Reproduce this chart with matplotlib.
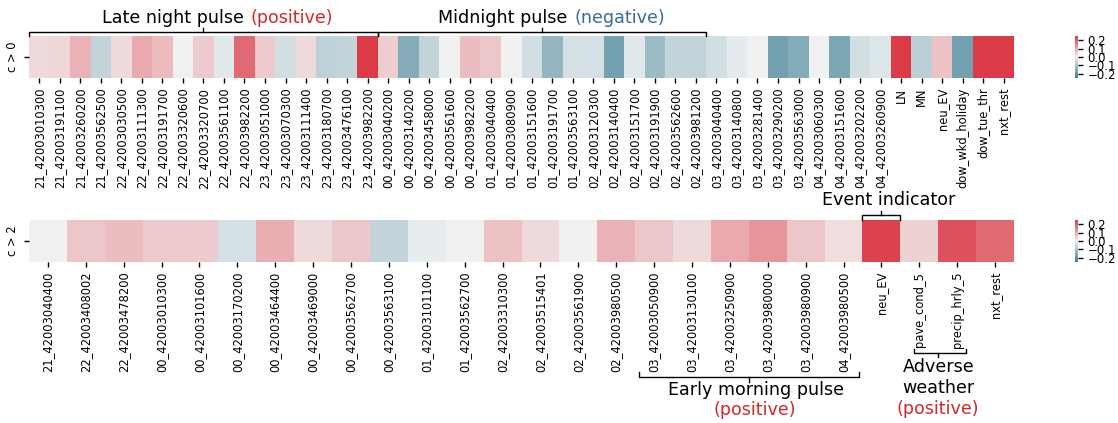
"""Two-row coefficient heatmaps (c > 0, c > 2) with grouped bracket annotations."""

import numpy as np
import matplotlib
matplotlib.use('Agg')
import matplotlib.pyplot as plt
import seaborn as sns


# ── data ──────────────────────────────────────────────────────────────────────

top_labels = [
    '21_42003010300', '21_42003191100', '21_42003260200', '21_42003562500',
    '22_42003030500', '22_42003111300', '22_42003191700', '22_42003320600',
    '22_42003320700', '22_42003561100', '22_42003982200', '23_42003051000',
    '23_42003070300', '23_42003111400', '23_42003180700', '23_42003476100',
    '23_42003982200', '00_42003040200', '00_42003140200', '00_42003458000',
    '00_42003561600', '00_42003982200', '01_42003040400', '01_42003080900',
    '01_42003151600', '01_42003191700', '01_42003563100', '02_42003120300',
    '02_42003140400', '02_42003151700', '02_42003191900', '02_42003562600',
    '02_42003981200', '03_42003040400', '03_42003140800', '03_42003281400',
    '03_42003290200', '03_42003563000', '04_42003060300', '04_42003151600',
    '04_42003202200', '04_42003260900', 'LN', 'MN', 'neu_EV',
    'dow_wkd_holiday', 'dow_tue_thr', 'nxt_rest',
]
top_values = [
    0.033, 0.038, 0.087, -0.065, 0.033, 0.098, 0.076, 0.0, 0.054, -0.022, 0.185, 0.054,
    -0.044, 0.033, -0.071, -0.065, 0.28, 0.049, -0.152, -0.065, 0.0, 0.071, 0.06, 0.0,
    -0.044, -0.13, -0.038, -0.038, -0.174, -0.022, -0.12, -0.065, -0.065, -0.044, -0.016, 0.0,
    -0.174, -0.152, 0.0, -0.163, -0.044, -0.027, 0.29, -0.076, 0.065, -0.174, 0.30, 0.32,
]

bot_labels = [
    '21_42003040400', '22_42003408002', '22_42003478200', '00_42003010300',
    '00_42003101600', '00_42003170200', '00_42003464400', '00_42003469000',
    '00_42003562700', '00_42003563100', '01_42003101100', '01_42003562700',
    '02_42003310300', '02_42003515401', '02_42003561900', '02_42003980500',
    '03_42003050900', '03_42003130100', '03_42003250900', '03_42003980000',
    '03_42003980900', '04_42003980500', 'neu_EV', 'pave_cond_5',
    'precip_hrly_5', 'nxt_rest',
]
bot_values = [
    0.0, 0.06, 0.071, 0.054, 0.054, -0.038, 0.092, 0.033, 0.06, -0.065, -0.013, 0.0,
    0.065, 0.033, 0.0, 0.087, 0.06, 0.033, 0.098, 0.125, 0.06, 0.027, 0.24, 0.044,
    0.218, 0.185,
]

# ── style ─────────────────────────────────────────────────────────────────────

VMIN, VMAX = -0.25, 0.25
CMAP = sns.diverging_palette(220, 10, as_cmap=True)
POS  = '#d62728'
NEG  = '#3d6b9e'
FS   = 12.6   # annotation font size
TS   = 8.3    # tick label font size

W, H = 1118, 423
fig = plt.figure(figsize=(W / 100, H / 100), dpi=100)

ax_top  = fig.add_axes([29 / W, 1 - 78 / H, 985 / W, 42 / H])
cax_top = fig.add_axes([1075 / W, 1 - 78 / H, 3 / W, 42 / H])
ax_bot  = fig.add_axes([29 / W, 1 - 262 / H, 985 / W, 42 / H])
cax_bot = fig.add_axes([1075 / W, 1 - 262 / H, 3 / W, 42 / H])


def draw_row(ax, cax, values, labels, ylab):
    sns.heatmap(np.array([values]), ax=ax, cbar_ax=cax, cmap=CMAP,
                vmin=VMIN, vmax=VMAX, xticklabels=labels, yticklabels=[ylab])
    ax.tick_params(axis='both', labelsize=TS, length=3.5, width=1)
    ax.set_xticklabels(labels, rotation=90)
    ax.set_yticklabels([ylab], rotation=90, va='center')
    cb = ax.collections[0].colorbar
    cb.set_ticks([-0.2, -0.1, 0.0, 0.1, 0.2])
    cb.outline.set_visible(False)
    cax.tick_params(labelsize=8.5, length=3.5, width=1)


draw_row(ax_top, cax_top, top_values, top_labels, 'c > 0')
draw_row(ax_bot, cax_bot, bot_values, bot_labels, 'c > 2')


# ── brackets & labels ─────────────────────────────────────────────────────────

def bracket(ax, x0, x1, y, end, tick, xm=None):
    tr = ax.get_xaxis_transform()
    xm = (x0 + x1) / 2 if xm is None else xm
    kw = dict(color='k', lw=1, transform=tr, clip_on=False)
    ax.plot([x0, x0, x1, x1], [end, y, y, end], **kw)
    ax.plot([xm, xm], [y, tick], **kw)


def two_tone(ax, x, y, black, colored, color):
    t = ax.text(x, y, black, transform=ax.get_xaxis_transform(),
                ha='left', va='center', fontsize=FS)
    ax.annotate(colored, xy=(1, 0), xycoords=t, xytext=(5, 0),
                textcoords='offset points', ha='left', va='bottom',
                fontsize=FS, color=color)


bracket(ax_top, 0, 17, 1.095, 1.0, 1.19)
bracket(ax_top, 17, 33, 1.095, 1.0, 1.19)
two_tone(ax_top, 3.56, 1.43, 'Late night pulse', '(positive)', POS)
two_tone(ax_top, 19.93, 1.43, 'Midnight pulse', '(negative)', NEG)

tr = ax_bot.get_xaxis_transform()
bracket(ax_bot, 22, 23, 1.12, 1.0, 1.214)
ax_bot.text(22.7, 1.476, 'Event indicator', transform=tr,
            ha='center', va='center', fontsize=FS)

bracket(ax_bot, 16.1, 21.9, -2.738, -2.62, -2.857, xm=19.0)
ax_bot.text(19.2, -3.05, 'Early morning pulse', transform=tr,
            ha='center', va='center', fontsize=FS)
ax_bot.text(19.17, -3.52, '(positive)', transform=tr,
            ha='center', va='center', fontsize=FS, color=POS)

bracket(ax_bot, 23.35, 24.72, -2.167, -2.07, -2.26, xm=24.0)
ax_bot.text(24.0, -2.75, 'Adverse\nweather', transform=tr,
            ha='center', va='center', fontsize=FS)
ax_bot.text(24.0, -3.5, '(positive)', transform=tr,
            ha='center', va='center', fontsize=FS, color=POS)

fig.savefig('out.png', dpi=100)
